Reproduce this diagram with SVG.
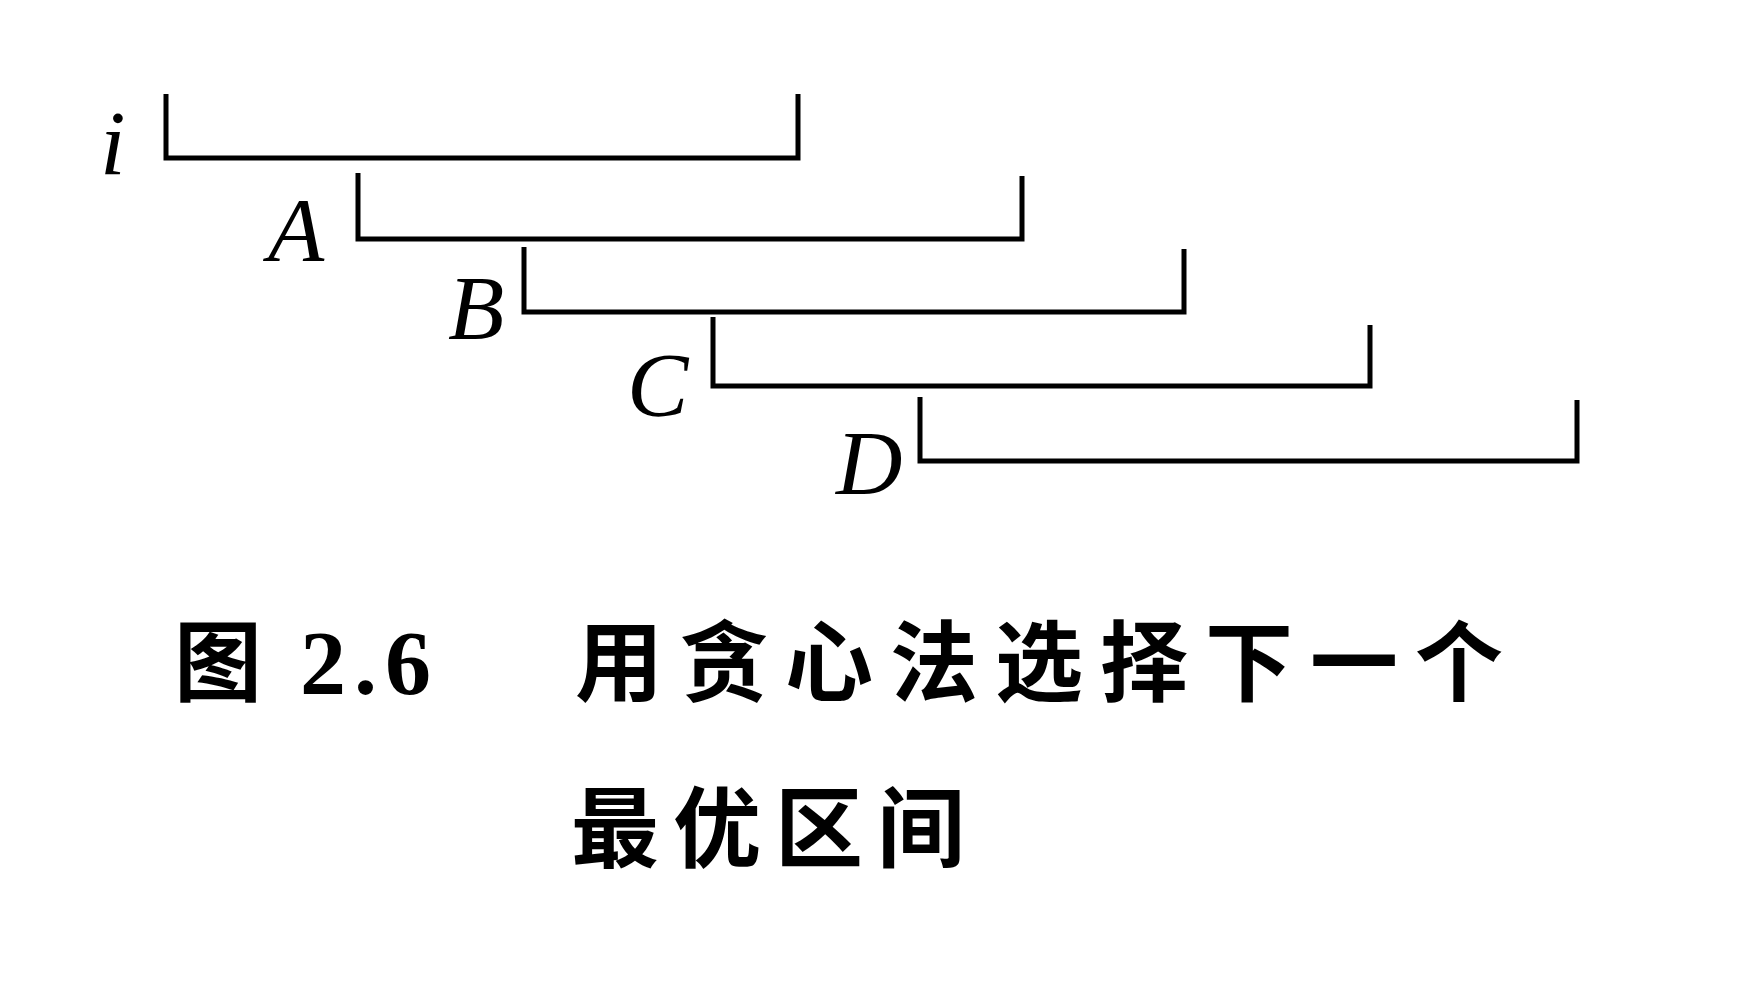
<svg xmlns="http://www.w3.org/2000/svg" width="1759" height="1000" viewBox="0 0 1759 1000">
<style>
.b{fill:none;stroke:#000;stroke-width:5}
.l{font-family:"Liberation Serif",serif;font-style:italic;font-size:92px;fill:#000}
.c{font-family:"Noto Sans CJK SC",sans-serif;font-weight:bold;font-size:88px;fill:#000}
.n{font-family:"Liberation Serif",serif;font-weight:bold;font-size:92px;fill:#000}
</style>
<rect width="1759" height="1000" fill="#fff"/>
<g id="connectors">
<path class="b" d="M166,94 V158 H798 V94"/>
<path class="b" d="M358,173 V239 H1022 V176"/>
<path class="b" d="M524,247 V312 H1184 V249"/>
<path class="b" d="M713,317 V386 H1370 V325"/>
<path class="b" d="M920,397 V461 H1577 V400"/>
</g>
<g id="labels">
<text class="l" x="100" y="174">i</text>
<text class="l" x="268" y="261">A</text>
<text class="l" x="448" y="339">B</text>
<text class="l" x="627" y="416">C</text>
<text class="l" x="836" y="494">D</text>
</g>
<g id="caption">
<text class="c" x="174" y="694">图</text>
<text class="n" x="300" y="694" letter-spacing="8">2.6</text>
<text class="c" x="575" y="694" letter-spacing="17">用贪心法选择下一个</text>
<text class="c" x="571" y="860" letter-spacing="14">最优区间</text>
</g>
</svg>
